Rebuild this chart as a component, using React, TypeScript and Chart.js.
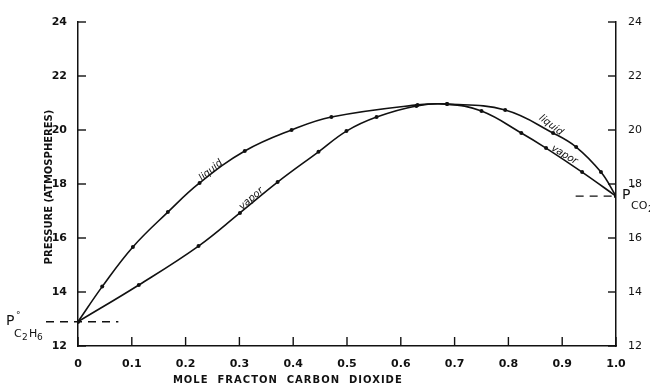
import React, { useEffect, useRef } from "react";
import { Chart, registerables } from "chart.js";

Chart.register(...registerables);

const liquidX = [0, 0.045, 0.102, 0.167, 0.226, 0.31, 0.397, 0.471, 0.631, 0.686, 0.794, 0.883, 0.926, 0.972, 1.0];
const liquidY = [12.9, 14.2, 15.67, 16.96, 18.04, 19.22, 20.0, 20.48, 20.93, 20.96, 20.74, 19.89, 19.37, 18.44, 17.55];
const vaporX = [0, 0.113, 0.224, 0.301, 0.371, 0.447, 0.499, 0.555, 0.629, 0.686, 0.75, 0.824, 0.87, 0.937, 1.0];
const vaporY = [12.9, 14.26, 15.7, 16.93, 18.07, 19.19, 19.96, 20.48, 20.89, 20.96, 20.7, 19.89, 19.33, 18.44, 17.55];
const xTickValues = [0, 0.1, 0.2, 0.3, 0.4, 0.5, 0.6, 0.7, 0.8, 0.9, 1.0];
const xTickLabels = ["0", "0.1", "0.2", "0.3", "0.4", "0.5", "0.6", "0.7", "0.8", "0.9", "1.0"];
const yTickValues = [12, 14, 16, 18, 20, 22, 24];
const yTickLabels = ["12", "14", "16", "18", "20", "22", "24"];
const pC2H6 = 12.9;
const pCO2 = 17.55;
const xTitle = "MOLE  FRACTON  CARBON  DIOXIDE";
const yTitle = "PRESSURE (ATMOSPHERES)";

const INK = "#111";
const FONT = "'DejaVu Sans', sans-serif";

const overlay = {
  id: "overlay",
  afterDraw(chart: any) {
    const { ctx, chartArea: ca, scales } = chart;
    const sx = scales.x;
    const sy = scales.y;
    ctx.save();
    ctx.strokeStyle = INK;
    ctx.fillStyle = INK;
    ctx.lineWidth = 1.4;
    const line = (x1: number, y1: number, x2: number, y2: number) => {
      ctx.beginPath();
      ctx.moveTo(x1, y1);
      ctx.lineTo(x2, y2);
      ctx.stroke();
    };
    yTickValues.forEach((v) => {
      const py = sy.getPixelForValue(v);
      line(ca.left, py, ca.left + 8, py);
      line(ca.right - 8, py, ca.right, py);
    });
    xTickValues.forEach((v) => {
      const px = sx.getPixelForValue(v);
      line(px, ca.bottom, px, ca.bottom - 9);
    });
    ctx.setLineDash([8, 6]);
    const yl = sy.getPixelForValue(pC2H6);
    line(ca.left - 32, yl, sx.getPixelForValue(0.075), yl);
    const yr = sy.getPixelForValue(pCO2);
    line(sx.getPixelForValue(0.925), yr, ca.right, yr);
    ctx.setLineDash([]);

    ctx.textBaseline = "alphabetic";
    ctx.textAlign = "left";
    ctx.font = `14px ${FONT}`;
    ctx.fillText("P", 6, yl + 3);
    ctx.font = `9px ${FONT}`;
    ctx.fillText("°", 16, yl - 4);
    ctx.font = `11px ${FONT}`;
    ctx.fillText("C", 14, yl + 15);
    ctx.fillText("H", 29, yl + 15);
    ctx.font = `9px ${FONT}`;
    ctx.fillText("2", 22, yl + 18);
    ctx.fillText("6", 37, yl + 18);

    const rx = ca.right + 6;
    ctx.font = `14px ${FONT}`;
    ctx.fillText("P", rx, yr + 3);
    ctx.font = `9px ${FONT}`;
    ctx.fillText("°", rx + 9, yr - 4);
    ctx.font = `11px ${FONT}`;
    ctx.fillText("CO", rx + 9, yr + 13);
    ctx.font = `9px ${FONT}`;
    ctx.fillText("2", rx + 26, yr + 16);

    const label = (text: string, xv: number, yv: number, ang: number) => {
      ctx.save();
      ctx.translate(sx.getPixelForValue(xv), sy.getPixelForValue(yv));
      ctx.rotate((ang * Math.PI) / 180);
      ctx.font = `italic 10px ${FONT}`;
      ctx.textAlign = "center";
      ctx.textBaseline = "middle";
      ctx.fillText(text, 0, 0);
      ctx.restore();
    };
    label("liquid", 0.247, 18.5, -40);
    label("vapor", 0.322, 17.45, -41);
    label("liquid", 0.879, 20.18, 37);
    label("vapor", 0.904, 19.08, 31);

    ctx.font = `bold 10px ${FONT}`;
    ctx.textAlign = "center";
    ctx.textBaseline = "middle";
    (ctx as any).letterSpacing = "1px";
    ctx.fillText(xTitle, ca.left + (ca.right - ca.left) * 0.39, ca.bottom + 34);
    (ctx as any).letterSpacing = "0px";
    ctx.save();
    ctx.translate(49, (ca.top + ca.bottom) / 2 + 3);
    ctx.rotate(-Math.PI / 2);
    ctx.font = `bold 10px ${FONT}`;
    ctx.fillText(yTitle, 0, 0);
    ctx.restore();
    ctx.restore();
  },
};

export default function App() {
  const ref = useRef<HTMLCanvasElement | null>(null);
  useEffect(() => {
    if (!ref.current) return;
    const mk = (xs: number[], ys: number[]) => xs.map((x, i) => ({ x, y: ys[i] }));
    const ds = (label: string, data: any) => ({
      label,
      data,
      borderColor: INK,
      backgroundColor: INK,
      borderWidth: 1.6,
      pointRadius: 2,
      pointBorderWidth: 0,
      tension: 0.4,
      showLine: true,
    });
    const tickFont = { family: FONT, size: 11, weight: "bold" as const };
    const chart = new Chart(ref.current, {
      type: "scatter",
      data: {
        datasets: [ds("liquid", mk(liquidX, liquidY)), ds("vapor", mk(vaporX, vaporY))],
      },
      plugins: [overlay],
      options: {
        animation: false,
        responsive: false,
        layout: { padding: { top: 22, left: 0, right: 0, bottom: 0 } },
        plugins: { legend: { display: false }, tooltip: { enabled: false } },
        scales: {
          x: {
            type: "linear",
            min: 0,
            max: 1,
            afterBuildTicks: (s: any) => {
              s.ticks = xTickValues.map((v) => ({ value: v }));
            },
            afterFit: (s: any) => {
              s.height = 44;
            },
            grid: { display: false },
            border: { display: true, color: INK, width: 1.5 },
            ticks: {
              color: INK,
              font: tickFont,
              padding: 4,
              maxRotation: 0,
              autoSkip: false,
              callback: (_v: any, i: number) => xTickLabels[i],
            },
          },
          y: {
            type: "linear",
            position: "left",
            min: 12,
            max: 24,
            afterBuildTicks: (s: any) => {
              s.ticks = yTickValues.map((v) => ({ value: v }));
            },
            afterFit: (s: any) => {
              s.width = 78;
            },
            grid: { display: false },
            border: { display: true, color: INK, width: 1.5 },
            ticks: {
              color: INK,
              font: tickFont,
              padding: 3,
              autoSkip: false,
              callback: (_v: any, i: number) => yTickLabels[i],
            },
          },
          y2: {
            type: "linear",
            position: "right",
            min: 12,
            max: 24,
            afterBuildTicks: (s: any) => {
              s.ticks = yTickValues.map((v) => ({ value: v }));
            },
            afterFit: (s: any) => {
              s.width = 34;
            },
            grid: { display: false },
            border: { display: true, color: INK, width: 1.5 },
            ticks: {
              color: INK,
              font: { family: FONT, size: 11 },
              padding: 4,
              autoSkip: false,
              callback: (_v: any, i: number) => yTickLabels[i],
            },
          },
        },
      },
    });
    return () => chart.destroy();
  }, []);
  return (
    <div style={{ position: "fixed", left: 0, top: 0, width: 650, height: 390, background: "#fff" }}>
      <canvas ref={ref} width={650} height={390} />
    </div>
  );
}
